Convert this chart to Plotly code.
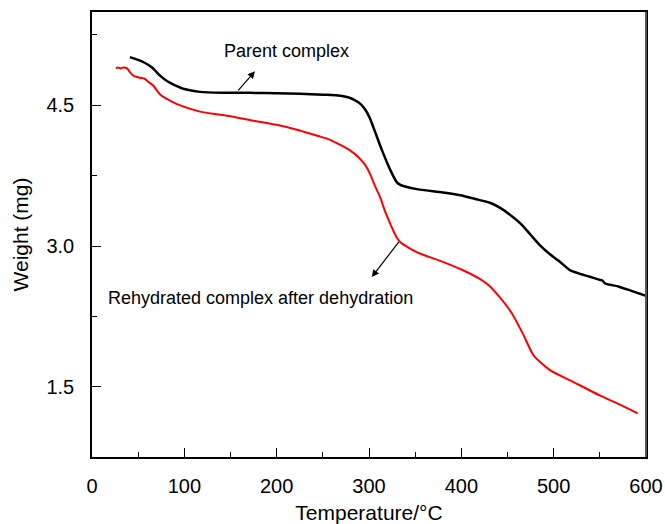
import plotly.graph_objects as go

# Parent complex (black)
parent_T = [41, 50, 57, 65, 74, 82, 90, 100, 117, 140, 171, 200, 225, 250, 269, 278, 285, 291, 296, 301, 306, 314, 323, 330, 334, 340, 355, 380, 399, 415, 431, 443, 453, 465, 475, 485, 495, 507, 518, 530, 540, 550, 553, 556, 570, 585, 600]
parent_W = [5.01, 4.98, 4.95, 4.90, 4.81, 4.75, 4.71, 4.67, 4.64, 4.63, 4.63, 4.625, 4.62, 4.61, 4.60, 4.58, 4.55, 4.51, 4.45, 4.36, 4.23, 4.02, 3.81, 3.68, 3.65, 3.63, 3.60, 3.57, 3.54, 3.50, 3.46, 3.40, 3.33, 3.23, 3.12, 3.01, 2.92, 2.83, 2.74, 2.70, 2.67, 2.64, 2.63, 2.60, 2.57, 2.52, 2.47]

# Rehydrated complex after dehydration (red)
rehyd_T = [26, 28, 31, 34, 38, 41, 45, 52, 57, 62, 66, 74, 82, 92, 117, 150, 171, 200, 225, 245, 258, 270, 279, 288, 296, 301, 306, 312, 317, 322, 326, 330, 334, 345, 355, 375, 400, 420, 430, 442, 455, 467, 478, 496, 520, 550, 570, 591]
rehyd_W = [4.89, 4.90, 4.89, 4.90, 4.89, 4.85, 4.81, 4.79, 4.78, 4.74, 4.71, 4.61, 4.56, 4.51, 4.43, 4.38, 4.34, 4.29, 4.23, 4.17, 4.13, 4.07, 4.02, 3.95, 3.86, 3.77, 3.65, 3.52, 3.38, 3.26, 3.17, 3.09, 3.04, 2.97, 2.92, 2.85, 2.75, 2.65, 2.58, 2.45, 2.28, 2.06, 1.84, 1.68, 1.56, 1.41, 1.32, 1.22]

x_ticks = [0, 100, 200, 300, 400, 500, 600]
y_ticks = [1.5, 3.0, 4.5]
y_tick_labels = ["1.5", "3.0", "4.5"]

FONT = "Liberation Sans, Arial, sans-serif"

fig = go.Figure()
fig.add_trace(go.Scatter(x=parent_T, y=parent_W, mode="lines",
                         line=dict(color="black", width=2.5, shape="spline", smoothing=0.6),
                         showlegend=False))
fig.add_trace(go.Scatter(x=rehyd_T, y=rehyd_W, mode="lines",
                         line=dict(color="red", width=2, shape="spline", smoothing=0.6),
                         showlegend=False))

fig.add_annotation(x=211, y=5.07, text="Parent complex", showarrow=False,
                   font=dict(family=FONT, size=18, color="black"))
fig.add_annotation(x=176.5, y=4.86, ax=157, ay=4.64, axref="x", ayref="y",
                   xref="x", yref="y", text="", showarrow=True,
                   arrowhead=2, arrowsize=1.2, arrowwidth=1.2, arrowcolor="black")
fig.add_annotation(x=15, y=2.45, text="Rehydrated complex after dehydration",
                   showarrow=False, xanchor="left",
                   font=dict(family=FONT, size=18, color="black"))
fig.add_annotation(x=303, y=2.67, ax=333.6, ay=3.06, axref="x", ayref="y",
                   xref="x", yref="y", text="", showarrow=True,
                   arrowhead=2, arrowsize=1.2, arrowwidth=1.2, arrowcolor="black")

# grey right frame edge
fig.add_shape(type="line", xref="paper", yref="paper", x0=1, x1=1, y0=0, y1=1,
              line=dict(color="#555555", width=2))

fig.update_xaxes(range=[0, 600], tickvals=x_ticks, ticks="inside", ticklen=9,
                 tickwidth=1.2, tickcolor="black", ticklabelstandoff=10, automargin=False,
                 minor=dict(dtick=50, tick0=0, ticks="inside", ticklen=5, tickcolor="black", tickwidth=1.2),
                 showline=True, linecolor="black", linewidth=1.5, mirror=True,
                 showgrid=False, zeroline=False,
                 tickfont=dict(family=FONT, size=20, color="black"),
                 title=dict(text="Temperature/°C", font=dict(family=FONT, size=21, color="black"), standoff=10))
fig.update_yaxes(range=[0.755, 5.49], tickvals=y_ticks, ticktext=y_tick_labels,
                 ticks="inside", ticklen=9, tickwidth=1.2, tickcolor="black", ticklabelstandoff=12,
                 automargin=False,
                 minor=dict(dtick=0.75, tick0=0, ticks="inside", ticklen=5, tickcolor="black", tickwidth=1.2),
                 showline=True, linecolor="black", linewidth=1.5, mirror=True,
                 showgrid=False, zeroline=False,
                 tickfont=dict(family=FONT, size=20, color="black"),
                 title=dict(text="Weight (mg)", font=dict(family=FONT, size=21, color="black"), standoff=12))

fig.update_layout(width=665, height=524, margin=dict(l=92, r=19, t=12, b=67),
                  plot_bgcolor="white", paper_bgcolor="white")

fig.write_html("out.html")
